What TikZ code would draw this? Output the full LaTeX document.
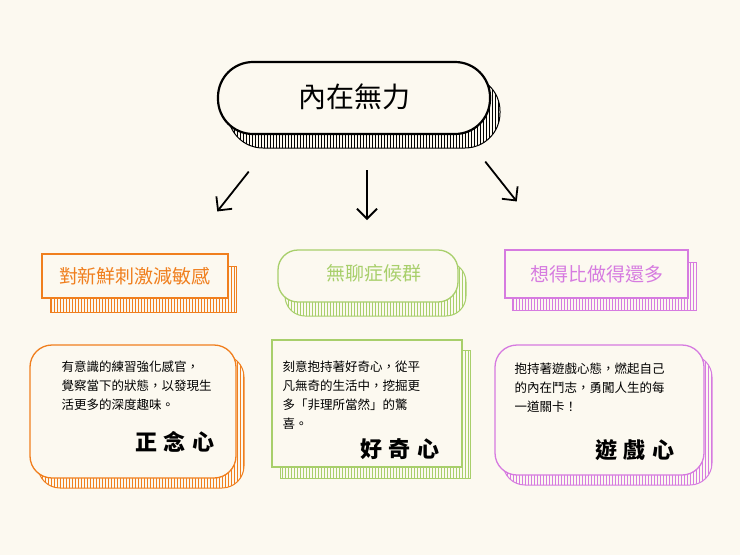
\documentclass[tikz,border=0pt]{standalone}
\usepackage{fontspec}
\newfontfamily\cjk{Noto Sans CJK TC}
\usetikzlibrary{patterns,arrows.meta}
\definecolor{bg}{HTML}{FCF9F0}
\definecolor{cor}{HTML}{F07F1E}
\definecolor{cgr}{HTML}{A8CF6B}
\definecolor{cpu}{HTML}{D67BE0}
\tikzset{
  frontbox/.style={draw=#1, line width=1.3pt, fill=bg},
  backbox/.style={draw=#1, line width=1pt, pattern=vertical lines, pattern color=#1},
  conn/.style={line width=1.8pt, -{Straight Barb[length=10pt,width=20pt]}, shorten >=2pt, shorten <=2pt},
  body/.style={font=\cjk\fontsize{12.5}{19}\selectfont, align=left, anchor=north west},
  ttl/.style={font=\cjk\bfseries\fontsize{22}{24}\selectfont}
}
\begin{document}
\begin{tikzpicture}[x=1pt,y=-1pt]
\fill[bg] (0,0) rectangle (740,555);
\useasboundingbox (0,0) rectangle (740,555);
% top
\draw[backbox=black, rounded corners=35pt] (228,76) rectangle (500,148);
\draw[frontbox=black, line width=2.2pt, rounded corners=35pt] (218,62) rectangle (490,134);
\node[font=\cjk\fontsize{28}{30}\selectfont] (top) at (354,97) {內在無力};
% row 2
\draw[backbox=cor] (50,266) rectangle (236,312);
\draw[frontbox=cor] (42,254) rectangle (228,298);
\node[font=\cjk\fontsize{19}{21}\selectfont, text=cor] (a) at (135,276) {對新鮮刺激減敏感};
\draw[backbox=cgr, rounded corners=20pt] (285,262) rectangle (466,316);
\draw[frontbox=cgr, rounded corners=20pt] (278,250) rectangle (458,302);
\node[font=\cjk\fontsize{19}{21}\selectfont, text=cgr] (b) at (374,273) {無聊症候群};
\draw[backbox=cpu] (512,262) rectangle (696,310);
\draw[frontbox=cpu] (505,250) rectangle (688,298);
\node[font=\cjk\fontsize{19}{21}\selectfont, text=cpu] (c) at (597,274) {想得比做得還多};
% arrows
\coordinate (a1) at (250,170); \coordinate (a2) at (216,213);
\coordinate (b1) at (367,168); \coordinate (b2) at (367,222);
\coordinate (c1) at (484,160); \coordinate (c2) at (518,203);
\draw[conn] (a1) -- (a2);
\draw[conn] (b1) -- (b2);
\draw[conn] (c1) -- (c2);
% row 3
\draw[backbox=cor, rounded corners=22pt] (38,355) rectangle (244,488);
\draw[frontbox=cor, rounded corners=22pt] (30,345) rectangle (236,478);
\node[body] (d) at (58,357) {有意識的練習強化感官，\\覺察當下的狀態，以發現生\\活更多的深度趣味。};
\node[ttl] (dt) at (175,442) {正\;念\;心};
\draw[backbox=cgr] (280,350) rectangle (470,478);
\draw[frontbox=cgr] (272,340) rectangle (462,467);
\node[body] (e) at (279,357) {刻意抱持著好奇心，從平\\凡無奇的生活中，挖掘更\\多「非理所當然」的驚\\喜。};
\node[ttl] (et) at (400,449) {好\;奇\;心};
\draw[backbox=cpu, rounded corners=22pt] (503,355) rectangle (712,485);
\draw[frontbox=cpu, rounded corners=22pt] (495,345) rectangle (704,475);
\node[body] (f) at (511,359) {抱持著遊戲心態，燃起自己\\的內在鬥志，勇闖人生的每\\一道關卡！};
\node[ttl] (ft) at (635,450) {遊\;戲\;心};
\end{tikzpicture}
\end{document}
